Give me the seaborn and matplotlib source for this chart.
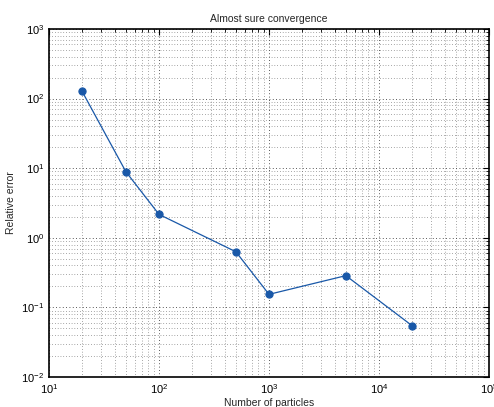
import matplotlib
matplotlib.use("Agg")
import matplotlib.pyplot as plt
import seaborn as sns
import pandas as pd
from matplotlib.ticker import LogLocator, NullFormatter

particles = [20, 50, 100, 500, 1000, 5000, 20000]
rel_error = [127, 8.9, 2.17, 0.63, 0.154, 0.286, 0.0546]

sns.set_style("white")
plt.rcParams['font.family'] = ['Liberation Sans', 'DejaVu Sans']
plt.rcParams['mathtext.fontset'] = 'custom'
plt.rcParams['mathtext.rm'] = 'Liberation Sans'

df = pd.DataFrame({"Number of particles": particles, "Relative error": rel_error})

fig = plt.figure(figsize=(4.94, 4.07), dpi=100)
ax = fig.add_axes([49/494, 1-377/407, 440/494, 348/407])
color = "#1958a8"
sns.lineplot(data=df, x="Number of particles", y="Relative error", ax=ax,
             color=color, linewidth=0.9, marker="o", markersize=5.2,
             markeredgecolor=color, markerfacecolor=color)
ax.set_xscale("log")
ax.set_yscale("log")
ax.set_xlim(10, 1e5)
ax.set_ylim(1e-2, 1e3)
ax.xaxis.set_major_locator(LogLocator(base=10, numticks=10))
ax.yaxis.set_major_locator(LogLocator(base=10, numticks=10))
ax.xaxis.set_minor_locator(LogLocator(base=10, subs=range(2, 10), numticks=20))
ax.yaxis.set_minor_locator(LogLocator(base=10, subs=range(2, 10), numticks=20))
ax.xaxis.set_minor_formatter(NullFormatter())
ax.yaxis.set_minor_formatter(NullFormatter())
ax.grid(True, which="major", linestyle=(0, (1, 3)), color="#222222", linewidth=0.6)
ax.grid(True, which="minor", linestyle=(0, (1, 3)), color="#555555", linewidth=0.5)
ax.set_axisbelow(True)
ax.tick_params(which="both", direction="in", top=True, right=True, labelsize=8,
               colors="black")
ax.tick_params(which="major", length=4, width=0.8)
ax.tick_params(which="minor", length=2, width=0.6)
for s in ax.spines.values():
    s.set_linewidth(1.2)
    s.set_color("black")
ax.set_title("Almost sure convergence", fontsize=7.5, pad=5)
ax.set_xlabel("Number of particles", fontsize=7.5, labelpad=2)
ax.set_ylabel("Relative error", fontsize=7.5, labelpad=4)
fig.savefig("out.png", dpi=100)
